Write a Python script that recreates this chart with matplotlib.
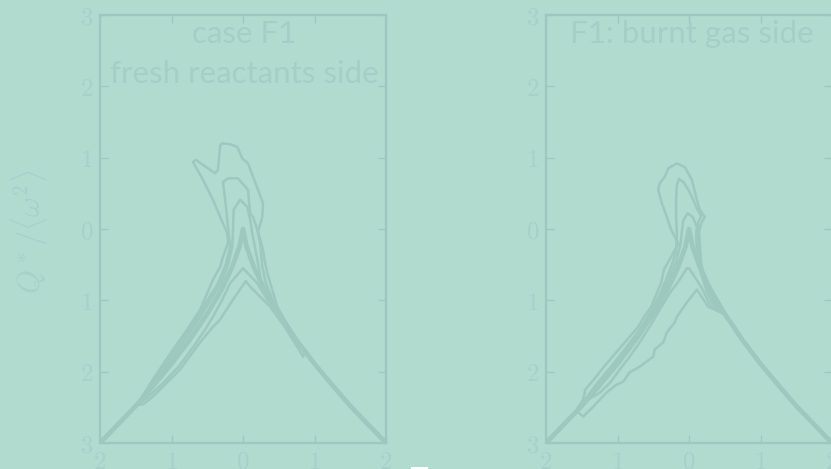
import matplotlib
matplotlib.use("Agg")
import matplotlib.pyplot as plt
from matplotlib.patches import Rectangle

plt.rcParams['mathtext.fontset'] = 'cm'

BG = '#b2dbd0'
LINE = '#9cc8bd'
TXT = '#a3cfc4'
TICKTXT = '#a6d1c6'

# axis ticks (labels as they appear in the picture)
x_ticks = [-2, -1, 0, 1, 2]
x_ticklabels = ['2', '1', '0', '1', '2']
y_ticks = [-3, -2, -1, 0, 1, 2, 3]
y_ticklabels = ['3', '2', '1', '0', '1', '2', '3']

# Vieillefosse tail (thick line), shared by both panels
tail_R = [-2.0, -1.75, -1.5, -1.25, -1.0, -0.75, -0.5, -0.3, -0.15, -0.05, 0.0,
          0.05, 0.15, 0.3, 0.5, 0.75, 1.0, 1.25, 1.5, 1.75, 2.0]
tail_Q = [-3.0, -2.74, -2.48, -2.19, -1.89, -1.56, -1.19, -0.85, -0.53, -0.25, 0.0,
          -0.25, -0.53, -0.85, -1.19, -1.56, -1.89, -2.19, -2.48, -2.74, -3.0]

# ---- left panel: case F1, fresh reactants side ----
L1_R = [-1.48, -1.26, -0.98, -0.78, -0.60, -0.50, -0.42, -0.32, -0.28, -0.21, -0.22, -0.32,
        -0.42, -0.56, -0.70, -0.66, -0.39, -0.35, -0.32, -0.29, -0.18, -0.08, -0.01, 0.07,
        0.21, 0.28, 0.27, 0.21, 0.28, 0.31, 0.34, 0.48, 0.66, 0.80]
L1_Q = [-2.46, -2.11, -1.69, -1.41, -1.13, -0.90, -0.71, -0.53, -0.39, -0.20, -0.06, 0.17,
        0.41, 0.69, 0.94, 0.97, 0.78, 0.83, 1.17, 1.20, 1.19, 1.15, 0.99, 0.92,
        0.55, 0.36, 0.17, -0.04, -0.29, -0.48, -0.62, -1.09, -1.41, -1.65]

L2_R = [-1.47, -1.40, -1.23, -1.05, -0.85, -0.66, -0.49, -0.35, -0.24, -0.18, -0.22, -0.25,
        -0.28, -0.21, -0.07, 0.07, 0.10, 0.14, 0.20, 0.24, 0.27, 0.32, 0.45, 0.62, 0.80]
L2_Q = [-2.45, -2.36, -2.11, -1.83, -1.55, -1.27, -0.99, -0.76, -0.50, -0.25, 0.13, 0.41,
        0.66, 0.71, 0.71, 0.55, 0.22, 0.17, -0.01, -0.20, -0.53, -0.76, -1.09, -1.37, -1.65]

L3_R = [-1.46, -1.36, -1.19, -1.01, -0.81, -0.62, -0.45, -0.31, -0.21, -0.15, -0.14, -0.13,
        -0.04, 0.06, 0.10, 0.13, 0.20, 0.25, 0.38, 0.56, 0.80]
L3_Q = [-2.45, -2.35, -2.11, -1.83, -1.55, -1.27, -0.99, -0.76, -0.50, -0.25, -0.01, 0.27,
        0.41, 0.31, 0.13, -0.06, -0.43, -0.71, -0.99, -1.30, -1.65]

L5_R = [-1.45, -1.30, -1.10, -0.90, -0.70, -0.53, -0.42, -0.29, -0.18, 0.0, 0.20, 0.34,
        0.42, 0.66]
L5_Q = [-2.45, -2.33, -2.14, -1.93, -1.66, -1.41, -1.23, -0.99, -0.76, -0.55, -0.76, -0.99,
        -1.09, -1.45]

L6_R = [-1.48, -1.40, -1.26, -1.06, -0.88, -0.60, -0.42, -0.32, -0.14, 0.04, 0.10, 0.38,
        0.59, 0.80, 0.84, 0.86]
L6_Q = [-2.46, -2.46, -2.35, -2.15, -1.97, -1.59, -1.37, -1.27, -0.99, -0.73, -0.81, -1.09,
        -1.38, -1.72, -1.79, -1.74]

# ---- right panel: F1, burnt gas side ----
R1_R = [-1.57, -1.48, -1.45, -1.33, -1.19, -0.95, -0.71, -0.63, -0.53, -0.43, -0.39, -0.35,
        -0.29, -0.21, -0.15, -0.25, -0.31, -0.38, -0.43, -0.41, -0.34, -0.29, -0.17, -0.06,
        0.04, 0.11, 0.15, 0.22, 0.17, 0.14, 0.17, 0.22, 0.31, 0.41, 0.52, 0.71]
R1_Q = [-2.53, -2.39, -2.25, -2.11, -1.93, -1.65, -1.37, -1.23, -1.09, -0.85, -0.76, -0.57,
        -0.46, -0.32, -0.20, -0.01, 0.17, 0.36, 0.55, 0.64, 0.73, 0.85, 0.92, 0.87,
        0.69, 0.41, 0.27, 0.17, 0.08, -0.04, -0.48, -0.71, -0.95, -1.09, -1.22, -1.48]

R2_R = [-1.54, -1.48, -1.30, -1.10, -0.90, -0.69, -0.52, -0.41, -0.32, -0.24, -0.18, -0.17,
        -0.18, -0.18, -0.17, -0.14, -0.08, -0.01, 0.04, 0.11, 0.17, 0.13, 0.11, 0.14,
        0.20, 0.28, 0.35, 0.46]
R2_Q = [-2.53, -2.43, -2.18, -1.94, -1.69, -1.41, -1.13, -0.92, -0.71, -0.50, -0.32, -0.08,
        0.17, 0.41, 0.62, 0.70, 0.66, 0.55, 0.45, 0.29, 0.18, 0.10, -0.04, -0.36,
        -0.69, -0.94, -1.03, -1.16]

R3_R = [-1.52, -1.39, -1.16, -0.92, -0.72, -0.53, -0.39, -0.28, -0.18, -0.12, -0.10, -0.08,
        -0.02, 0.05, 0.11, 0.10, 0.11, 0.15, 0.24, 0.34, 0.49]
R3_Q = [-2.50, -2.33, -2.04, -1.75, -1.48, -1.19, -0.94, -0.70, -0.46, -0.22, -0.04, 0.12,
        0.22, 0.17, 0.03, -0.11, -0.29, -0.57, -0.85, -1.06, -1.19]

R5_R = [-1.45, -1.34, -1.24, -1.10, -0.97, -0.83, -0.69, -0.55, -0.41, -0.27, -0.13, -0.03,
        0.0, 0.17, 0.31, 0.49]
R5_Q = [-2.41, -2.35, -2.29, -2.15, -1.97, -1.79, -1.59, -1.37, -1.13, -0.90, -0.71, -0.55,
        -0.55, -0.81, -1.09, -1.19]

R6_R = [-1.55, -1.48, -1.34, -1.15, -1.01, -0.92, -0.83, -0.69, -0.50, -0.48, -0.36, -0.31,
        -0.20, -0.17, -0.03, 0.11, 0.27, 0.49]
R6_Q = [-2.57, -2.63, -2.49, -2.29, -2.18, -2.14, -2.01, -1.93, -1.79, -1.69, -1.59, -1.45,
        -1.31, -1.23, -1.03, -0.85, -1.09, -1.19]

left_contours = [(L1_R, L1_Q), (L2_R, L2_Q), (L3_R, L3_Q), (L5_R, L5_Q), (L6_R, L6_Q)]
right_contours = [(R1_R, R1_Q), (R2_R, R2_Q), (R3_R, R3_Q), (R5_R, R5_Q), (R6_R, R6_Q)]

fig = plt.figure(figsize=(8.31, 4.69), dpi=100, facecolor=BG)

def setup(ax):
    ax.set_facecolor(BG)
    ax.set_xlim(-2, 2)
    ax.set_ylim(-3, 3)
    ax.set_xticks(x_ticks)
    ax.set_xticklabels(['$%s$' % t for t in x_ticklabels])
    ax.set_yticks(y_ticks)
    ax.set_yticklabels(['$%s$' % t for t in y_ticklabels])
    ax.tick_params(direction='in', top=True, right=True, length=6, width=1.0,
                   color=LINE, labelcolor=TICKTXT, labelsize=18, pad=5)
    for s in ax.spines.values():
        s.set_color(LINE)
        s.set_linewidth(1.6)

def draw(ax, contours):
    ax.plot(tail_R, tail_Q, color=LINE, lw=3.4, solid_capstyle='round', zorder=3)
    for r, q in contours:
        ax.plot(r, q, color=LINE, lw=1.8, solid_joinstyle='round', zorder=2)

axL = fig.add_axes([100/831, 26/469, 286/831, 428/469])
axR = fig.add_axes([546/831, 26/469, 286/831, 428/469])
setup(axL)
setup(axR)
draw(axL, left_contours)
draw(axR, right_contours)

axL.text(0.505, 0.935, 'case F1', transform=axL.transAxes, ha='center', va='baseline',
         fontsize=22.5, family='Lato', color=TXT)
axL.text(0.505, 0.84, 'fresh reactants side', transform=axL.transAxes, ha='center',
         va='baseline', fontsize=22.5, family='Lato', color=TXT)
axR.text(0.51, 0.935, 'F1: burnt gas side', transform=axR.transAxes, ha='center',
         va='baseline', fontsize=22.5, family='Lato', color=TXT)

fig.text(30/831, 1 - 231/469, r'$Q^*/\langle\omega^2\rangle$', rotation=90,
         ha='center', va='center', fontsize=22, color=TICKTXT)

fig.patches.append(Rectangle((411/831, 0), 17/831, 2/469, transform=fig.transFigure,
                             facecolor='white', edgecolor='none'))

fig.savefig('out.png', dpi=100, facecolor=BG)
